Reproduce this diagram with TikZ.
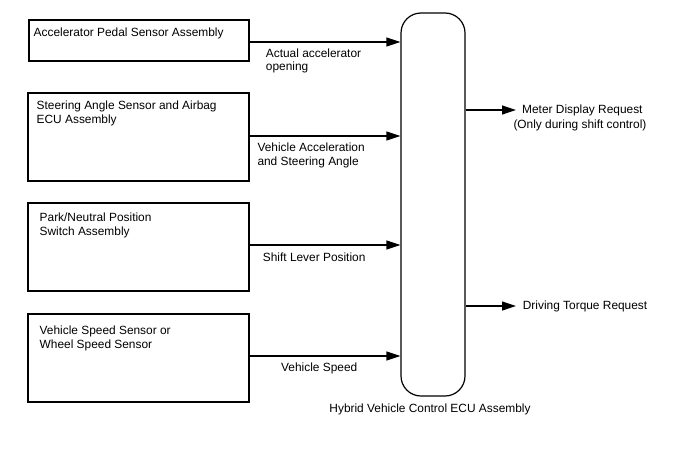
\documentclass[tikz,border=0pt]{standalone}
\usepackage{fontspec}
\setmainfont{Liberation Sans}
\usetikzlibrary{arrows.meta}
\begin{document}
\begin{tikzpicture}[x=1pt,y=-1pt,
  every node/.style={font=\fontsize{11.9}{13.6}\selectfont},
  srcbox/.style={draw,line width=1.2pt,rectangle,inner sep=0pt},
  lbl/.style={anchor=base west,inner sep=0pt,align=left},
  conn/.style={line width=1.2pt,-{Triangle[length=14pt,width=9pt]}}]
\useasboundingbox (0,0) rectangle (688,463);
% source boxes
\node[srcbox,minimum width=220pt,minimum height=41pt] (b1) at (139,40.5) {};
\node[srcbox,minimum width=221pt,minimum height=88pt] (b2) at (138.5,137) {};
\node[srcbox,minimum width=221pt,minimum height=88pt] (b3) at (138.5,247) {};
\node[srcbox,minimum width=221pt,minimum height=88pt] (b4) at (138.5,358) {};
\node[lbl] (t1) at (33.5,36) {Accelerator Pedal Sensor Assembly};
\node[lbl] (t2) at (36.5,123.5) {Steering Angle Sensor and Airbag\\ECU Assembly};
\node[lbl] (t3) at (39.5,235.5) {Park/Neutral Position\\Switch Assembly};
\node[lbl] (t4) at (39.5,348.2) {Vehicle Speed Sensor or\\Wheel Speed Sensor};
% ECU
\node[draw,line width=1.2pt,rounded corners=20pt,minimum width=64pt,minimum height=383pt,inner sep=0pt] (ecu) at (433,204.5) {};
\node[anchor=base,inner sep=0pt] (ecul) at (430,412.3) {Hybrid Vehicle Control ECU Assembly};
% input arrows
\draw[conn] (b1.east |- 0,42) coordinate (s1) -- (ecu.west |- s1);
\draw[conn] (b2.east |- 0,136) coordinate (s2) -- (ecu.west |- s2);
\draw[conn] (b3.east |- 0,245) coordinate (s3) -- (ecu.west |- s3);
\draw[conn] (b4.east |- 0,356) coordinate (s4) -- (ecu.west |- s4);
\node[lbl] (l1) at (265.7,70.8) {Actual accelerator\\opening};
\node[lbl] (l2) at (257.3,165) {Vehicle Acceleration\\and Steering Angle};
\node[lbl] (l3) at (262.7,261) {Shift Lever Position};
\node[lbl] (l4) at (281,371.7) {Vehicle Speed};
% outputs
\coordinate (m) at (516,110);
\coordinate (d) at (516,306);
\draw[conn] (ecu.east |- m) -- (m);
\draw[conn] (ecu.east |- d) -- (d);
\node[lbl] (o1) at (522,113.3) {Meter Display Request};
\node[lbl] (o2) at (513.3,128.8) {(Only during shift control)};
\node[lbl] (o3) at (522.7,309) {Driving Torque Request};
\end{tikzpicture}
\end{document}
